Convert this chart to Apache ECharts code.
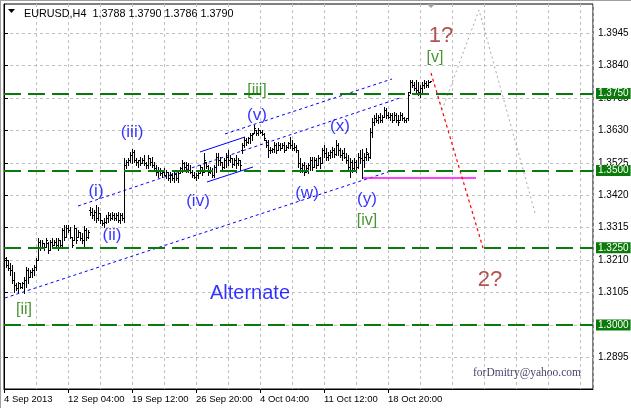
<!DOCTYPE html>
<html><head><meta charset="utf-8">
<script src="https://cdn.jsdelivr.net/npm/echarts@6/dist/echarts.min.js"></script>
<style>html,body{margin:0;padding:0;background:#fff}#c{width:631px;height:408px}</style>
</head><body><div id="c"></div>
<script>
// ---------- data ----------
const symbolName = 'EURUSD,H4';
const xTickLabels = ['4 Sep 2013','12 Sep 04:00','19 Sep 12:00','26 Sep 20:00','4 Oct 04:00','11 Oct 12:00','18 Oct 20:00'];
const yTicks = [1.2895,1.3000,1.3105,1.3210,1.3315,1.3420,1.3525,1.3630,1.3735,1.3840,1.3945];
const levels = [1.3750,1.3500,1.3250,1.3000];
// H4 bars: [open, high, low, close]
const ohlc = [
[1.3217,1.3220,1.3188,1.3194],[1.3194,1.3210,1.3178,1.3185],[1.3185,1.3201,1.3162,1.3178],[1.3178,1.3194,1.3136,1.3146],
[1.3146,1.3172,1.3107,1.3129],[1.3129,1.3136,1.3113,1.3120],[1.3120,1.3139,1.3107,1.3136],[1.3136,1.3136,1.3120,1.3123],
[1.3123,1.3139,1.3120,1.3136],[1.3136,1.3155,1.3103,1.3146],[1.3146,1.3188,1.3123,1.3178],[1.3178,1.3185,1.3136,1.3155],
[1.3155,1.3178,1.3155,1.3172],[1.3172,1.3185,1.3155,1.3178],[1.3178,1.3194,1.3162,1.3188],[1.3188,1.3217,1.3178,1.3210],
[1.3210,1.3282,1.3210,1.3269],[1.3269,1.3275,1.3243,1.3253],[1.3253,1.3275,1.3249,1.3266],[1.3266,1.3266,1.3243,1.3253],
[1.3253,1.3282,1.3253,1.3275],[1.3266,1.3269,1.3233,1.3243],[1.3243,1.3275,1.3243,1.3269],[1.3269,1.3282,1.3253,1.3259],
[1.3259,1.3275,1.3259,1.3269],[1.3269,1.3282,1.3253,1.3259],[1.3259,1.3282,1.3243,1.3275],[1.3275,1.3275,1.3253,1.3259],
[1.3259,1.3314,1.3253,1.3308],[1.3308,1.3324,1.3275,1.3285],[1.3285,1.3324,1.3285,1.3314],[1.3314,1.3324,1.3301,1.3308],
[1.3308,1.3317,1.3282,1.3285],[1.3285,1.3285,1.3253,1.3259],[1.3275,1.3324,1.3275,1.3314],[1.3314,1.3314,1.3266,1.3275],
[1.3285,1.3308,1.3285,1.3301],[1.3301,1.3301,1.3275,1.3282],[1.3282,1.3298,1.3266,1.3275],[1.3275,1.3321,1.3253,1.3308],
[1.3308,1.3314,1.3275,1.3285],[1.3285,1.3308,1.3282,1.3301],[1.3372,1.3382,1.3356,1.3366],[1.3366,1.3379,1.3347,1.3356],
[1.3356,1.3372,1.3340,1.3366],[1.3366,1.3389,1.3334,1.3347],[1.3347,1.3382,1.3340,1.3363],[1.3363,1.3363,1.3330,1.3340],
[1.3340,1.3340,1.3324,1.3330],[1.3330,1.3347,1.3317,1.3334],[1.3334,1.3356,1.3330,1.3347],[1.3347,1.3366,1.3334,1.3356],
[1.3356,1.3363,1.3340,1.3347],[1.3347,1.3366,1.3343,1.3356],[1.3356,1.3363,1.3340,1.3347],[1.3347,1.3363,1.3340,1.3356],
[1.3356,1.3366,1.3334,1.3340],[1.3340,1.3363,1.3330,1.3356],[1.3356,1.3363,1.3340,1.3347],[1.3347,1.3541,1.3334,1.3518],
[1.3518,1.3534,1.3508,1.3528],[1.3528,1.3541,1.3518,1.3534],[1.3534,1.3560,1.3528,1.3551],[1.3551,1.3570,1.3525,1.3560],
[1.3560,1.3567,1.3528,1.3534],[1.3534,1.3541,1.3518,1.3528],[1.3528,1.3534,1.3512,1.3534],[1.3534,1.3544,1.3518,1.3525],
[1.3525,1.3541,1.3525,1.3534],[1.3534,1.3551,1.3518,1.3525],[1.3525,1.3528,1.3508,1.3518],[1.3518,1.3551,1.3508,1.3541],
[1.3541,1.3541,1.3518,1.3528],[1.3528,1.3544,1.3512,1.3518],[1.3518,1.3528,1.3502,1.3508],[1.3508,1.3518,1.3486,1.3496],
[1.3496,1.3512,1.3479,1.3502],[1.3502,1.3508,1.3486,1.3492],[1.3492,1.3502,1.3479,1.3496],[1.3496,1.3508,1.3486,1.3486],
[1.3486,1.3502,1.3476,1.3496],[1.3496,1.3496,1.3470,1.3476],[1.3476,1.3496,1.3463,1.3486],[1.3486,1.3492,1.3470,1.3476],
[1.3476,1.3496,1.3463,1.3489],[1.3489,1.3492,1.3470,1.3476],[1.3476,1.3496,1.3463,1.3492],[1.3492,1.3512,1.3492,1.3508],
[1.3508,1.3534,1.3496,1.3525],[1.3525,1.3528,1.3502,1.3512],[1.3512,1.3528,1.3496,1.3518],[1.3518,1.3525,1.3496,1.3502],
[1.3502,1.3518,1.3492,1.3496],[1.3496,1.3502,1.3479,1.3486],[1.3486,1.3496,1.3476,1.3479],[1.3479,1.3492,1.3470,1.3486],
[1.3486,1.3496,1.3476,1.3492],[1.3492,1.3518,1.3492,1.3512],[1.3512,1.3512,1.3486,1.3496],[1.3496,1.3557,1.3496,1.3534],
[1.3528,1.3528,1.3508,1.3515],[1.3515,1.3518,1.3486,1.3496],[1.3496,1.3512,1.3492,1.3502],[1.3502,1.3508,1.3479,1.3486],
[1.3486,1.3518,1.3479,1.3512],[1.3512,1.3557,1.3496,1.3544],[1.3544,1.3557,1.3518,1.3534],[1.3534,1.3544,1.3518,1.3528],
[1.3528,1.3528,1.3502,1.3512],[1.3512,1.3541,1.3508,1.3534],[1.3534,1.3557,1.3512,1.3544],[1.3544,1.3567,1.3518,1.3534],
[1.3534,1.3551,1.3528,1.3541],[1.3541,1.3541,1.3512,1.3521],[1.3521,1.3541,1.3518,1.3534],[1.3534,1.3551,1.3508,1.3525],
[1.3525,1.3541,1.3518,1.3534],[1.3534,1.3534,1.3502,1.3518],[1.3567,1.3590,1.3557,1.3583],[1.3583,1.3609,1.3577,1.3599],
[1.3599,1.3606,1.3583,1.3593],[1.3593,1.3609,1.3590,1.3606],[1.3606,1.3622,1.3590,1.3615],[1.3615,1.3622,1.3599,1.3619],
[1.3622,1.3648,1.3622,1.3638],[1.3632,1.3632,1.3615,1.3622],[1.3622,1.3638,1.3615,1.3632],[1.3632,1.3632,1.3622,1.3625],
[1.3625,1.3632,1.3615,1.3619],[1.3619,1.3622,1.3599,1.3606],[1.3599,1.3599,1.3577,1.3583],[1.3583,1.3599,1.3544,1.3567],
[1.3567,1.3577,1.3557,1.3567],[1.3567,1.3573,1.3560,1.3570],[1.3570,1.3593,1.3560,1.3583],[1.3583,1.3590,1.3557,1.3567],
[1.3567,1.3593,1.3567,1.3583],[1.3583,1.3590,1.3567,1.3573],[1.3573,1.3590,1.3573,1.3583],[1.3583,1.3593,1.3560,1.3567],
[1.3567,1.3583,1.3567,1.3577],[1.3577,1.3593,1.3573,1.3590],[1.3590,1.3609,1.3573,1.3583],[1.3583,1.3599,1.3567,1.3573],
[1.3573,1.3590,1.3567,1.3577],[1.3577,1.3583,1.3560,1.3567],[1.3567,1.3567,1.3512,1.3525],[1.3525,1.3541,1.3496,1.3508],
[1.3508,1.3525,1.3496,1.3518],[1.3518,1.3528,1.3486,1.3496],[1.3496,1.3518,1.3496,1.3508],[1.3508,1.3525,1.3492,1.3518],
[1.3518,1.3544,1.3502,1.3534],[1.3534,1.3544,1.3502,1.3512],[1.3512,1.3544,1.3512,1.3534],[1.3534,1.3541,1.3508,1.3518],
[1.3518,1.3551,1.3518,1.3541],[1.3541,1.3544,1.3508,1.3525],[1.3525,1.3573,1.3525,1.3567],[1.3567,1.3583,1.3544,1.3557],
[1.3557,1.3573,1.3534,1.3544],[1.3544,1.3560,1.3534,1.3551],[1.3551,1.3567,1.3541,1.3560],[1.3560,1.3577,1.3544,1.3567],
[1.3567,1.3573,1.3544,1.3554],[1.3554,1.3599,1.3551,1.3583],[1.3583,1.3590,1.3551,1.3567],[1.3567,1.3573,1.3544,1.3551],
[1.3551,1.3567,1.3534,1.3557],[1.3557,1.3573,1.3541,1.3544],[1.3544,1.3557,1.3525,1.3534],[1.3534,1.3551,1.3502,1.3512],
[1.3512,1.3541,1.3479,1.3528],[1.3528,1.3534,1.3496,1.3508],[1.3508,1.3541,1.3502,1.3528],[1.3528,1.3534,1.3496,1.3512],
[1.3512,1.3557,1.3508,1.3544],[1.3544,1.3567,1.3525,1.3541],[1.3541,1.3570,1.3476,1.3534],[1.3534,1.3557,1.3512,1.3544],
[1.3544,1.3573,1.3534,1.3560],[1.3554,1.3557,1.3534,1.3544],[1.3544,1.3638,1.3541,1.3625],[1.3625,1.3671,1.3609,1.3658],
[1.3658,1.3680,1.3648,1.3671],[1.3671,1.3687,1.3658,1.3664],[1.3664,1.3680,1.3654,1.3674],[1.3674,1.3687,1.3658,1.3664],
[1.3664,1.3680,1.3658,1.3674],[1.3674,1.3706,1.3674,1.3696],[1.3696,1.3703,1.3671,1.3680],[1.3680,1.3690,1.3671,1.3674],
[1.3674,1.3687,1.3664,1.3680],[1.3680,1.3687,1.3658,1.3664],[1.3664,1.3690,1.3664,1.3680],[1.3680,1.3687,1.3658,1.3664],
[1.3664,1.3680,1.3648,1.3658],[1.3664,1.3690,1.3664,1.3680],[1.3680,1.3687,1.3664,1.3671],[1.3671,1.3674,1.3658,1.3664],
[1.3664,1.3671,1.3658,1.3671],[1.3671,1.3755,1.3664,1.3745],[1.3755,1.3794,1.3752,1.3787],[1.3787,1.3794,1.3771,1.3777],
[1.3777,1.3787,1.3761,1.3768],[1.3768,1.3794,1.3752,1.3761],[1.3761,1.3787,1.3745,1.3755],[1.3755,1.3777,1.3739,1.3768],
[1.3768,1.3787,1.3755,1.3777],[1.3777,1.3794,1.3768,1.3784],[1.3784,1.3790,1.3771,1.3777],[1.3777,1.3794,1.3771,1.3787],
[1.3788,1.3790,1.3786,1.3790]
];
// analysis lines: [bar position, price]
const lowerChannel = [[0.5,1.30873],[192,1.34956]];
const upperChannel = [[110.5,1.36187],[194,1.37969]];
const midChannel = [[37,1.33854],[198,1.37353]];
const wedgeUpper = [[98,1.35604],[120.5,1.36090]];
const wedgeLower = [[101.5,1.34632],[124.5,1.35117]];
const ivLevel = [[179,1.3476],[236,1.3476]];
const mainTarget = [[213.5,1.38164],[239.5,1.32493]];
const altPath = [[219,1.36965],[237.5,1.40205],[265.5,1.33627]];

const blueLabels = [['(i)',46,1.3434],['(ii)',54,1.32914],['(iii)',64,1.36252],['(iv)',97,1.34016],['(v)',126.5,1.36803],
  ['(w)',151.5,1.34275],['(x)',168,1.36446],['(y)',181.5,1.34081]];
const greenLabels = [['[ii]',10,1.30484],['[iii]',126.5,1.3758],['[iv]',181.5,1.33368],['[v]',215.5,1.3865]];
const redLabels = [['1?',218.5,1.39363],['2?',243,1.31456]];

// ---------- chart ----------
const chart = echarts.init(document.getElementById('c'), null, {renderer:'canvas'});
const SANS = 'Liberation Sans';
const barsPerLabel = 32;
const xLabelPos = xTickLabels.map((_, i) => i * barsPerLabel);
const last = ohlc[ohlc.length - 1];

function lineSeries(data, color, dash, width) {
  return {type:'line', data, symbol:'none', silent:true, animation:false,
    lineStyle:{color, width: width || 1, type: dash}, z: 3};
}
function textSeries(list, color, size, family) {
  return {type:'scatter', symbolSize:0, silent:true, animation:false, z:5,
    data: list.map(t => ({value:[t[1], t[2]], label:{show:true, position:'inside', formatter:t[0],
      color, fontSize:size, fontFamily: family || SANS}}))};
}

const option = {
  animation:false,
  backgroundColor:'#ffffff',
  title:{text: symbolName + '  ' + last.map(v => v.toFixed(4)).join(' '), left:19, top:4,
    textStyle:{fontSize:10.8, fontWeight:'normal', color:'#000', fontFamily:SANS}},
  grid:{left:4, right:38, top:4, bottom:19, show:true, borderColor:'#000', borderWidth:1,
    backgroundColor:'#fff', containLabel:false, outerBoundsMode:'none'},
  xAxis:[
    {type:'value', min:0, max:294.5, interval:16, axisLine:{show:false}, axisTick:{show:false},
     axisLabel:{show:false}, splitLine:{show:true, lineStyle:{color:'#c0c0c0', type:[3,3], width:1}}},
    {type:'value', min:0, max:294.5, position:'bottom', axisLine:{show:true, lineStyle:{color:'#000'}},
     splitLine:{show:false},
     axisTick:{show:true, customValues:xLabelPos, length:4, lineStyle:{color:'#000'}},
     axisLabel:{customValues:xLabelPos, formatter:v => xTickLabels[xLabelPos.indexOf(v)] || '',
       align:'left', margin:5, fontSize:9.5, color:'#000', fontFamily:SANS}}
  ],
  yAxis:{type:'value', position:'right', min:1.27924, max:1.40399, scale:true,
    axisLine:{show:true, lineStyle:{color:'#000'}},
    axisTick:{show:true, customValues:yTicks, length:4, lineStyle:{color:'#000'}},
    axisLabel:{customValues:yTicks, formatter:v => v.toFixed(4), margin:5, fontSize:10, color:'#000', fontFamily:SANS},
    splitLine:{show:true, lineStyle:{color:'#c0c0c0', type:[3,3], width:1}}},
  series:[
    {type:'custom', name:symbolName, xAxisIndex:0, animation:false, silent:true, clip:false, z:4,
     data: ohlc.map((b, i) => [i + 1, b[0], b[1], b[2], b[3]]),
     encode:{x:0, y:[1,2,3,4]},
     renderItem:(params, api) => {
       const v = api.value(0);
       const pO = api.coord([v, api.value(1)]);
       const pH = api.coord([v, api.value(2)]);
       const pL = api.coord([v, api.value(3)]);
       const pC = api.coord([v, api.value(4)]);
       const xc = Math.round(pH[0]);
       const yTop = Math.round(pH[1]);
       const hgt = Math.max(1, Math.round(pL[1]) - yTop + 1);
       const st = {fill:'#000'};
       return {type:'group', children:[
         {type:'rect', shape:{x:xc, y:yTop, width:1, height:hgt}, style:st},
         {type:'rect', shape:{x:xc-1, y:Math.round(pO[1]), width:1, height:1}, style:st},
         {type:'rect', shape:{x:xc+1, y:Math.round(pC[1]), width:1, height:1}, style:st}
       ]};
     }},
    Object.assign(lineSeries(lowerChannel, '#0000ff', [3,3]), {
      markLine:{symbol:['none','none'], silent:true, animation:false, precision:4,
        lineStyle:{color:'#0a7a0a', width:2, type:[17,7]},
        label:{show:true, position:'end', distance:3, formatter:p => Number(p.value).toFixed(4),
          color:'#fff', backgroundColor:'#0a7a0a', padding:[1,2,0,2], fontSize:10, fontFamily:SANS},
        data: levels.map(v => ({yAxis:v}))}
    }),
    lineSeries(upperChannel, '#0000ff', [3,3]),
    lineSeries(midChannel, '#0000ff', [3,3]),
    lineSeries(wedgeUpper, '#0000ff', 'solid'),
    lineSeries(wedgeLower, '#0000ff', 'solid'),
    lineSeries(ivLevel, '#ff00ff', 'solid', 1.5),
    lineSeries(mainTarget, '#ff0000', [3,3], 1.2),
    lineSeries(altPath, '#a8a8a8', [2,3], 1),
    textSeries(blueLabels, '#0000ff', 17),
    textSeries(greenLabels, '#1a7a00', 16),
    textSeries(redLabels, '#a02424', 22),
    textSeries([['Alternate',123,1.31035]], '#0000ff', 20),
    textSeries([['forDmitry@yahoo.com',261.5,1.28442]], '#101040', 11.5, 'Liberation Serif')
  ],
  graphic:[
    {type:'polygon', shape:{points:[[8,9],[15,9],[11.5,13]]}, style:{fill:'#000'}},
    {type:'polygon', shape:{points:[[427,4],[435,4],[431,8]]}, style:{fill:'#a0a0a0'}},
    {type:'line', shape:{x1:0.5,y1:0,x2:0.5,y2:408}, style:{stroke:'#a0a0a0', lineWidth:1}},
    {type:'line', shape:{x1:0,y1:0.5,x2:631,y2:0.5}, style:{stroke:'#a0a0a0', lineWidth:1}}
  ]
};
chart.setOption(option);
</script></body></html>
